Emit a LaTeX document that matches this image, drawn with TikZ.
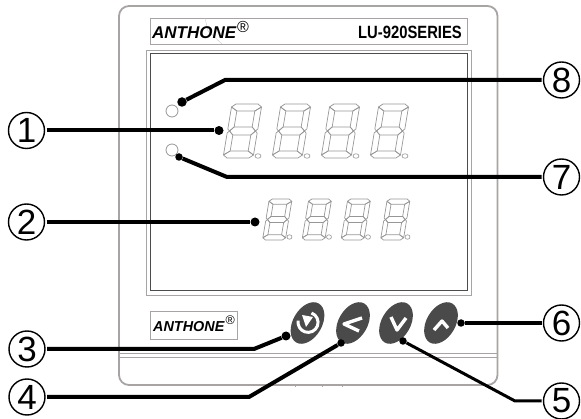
\documentclass[tikz,border=0pt]{standalone}
\usepackage{fontspec}
\setmainfont{Liberation Sans}
\usetikzlibrary{arrows.meta,positioning,shapes.geometric}
\definecolor{BodyGray}{RGB}{168,164,164}
\definecolor{KeyGray}{RGB}{74,74,74}
\definecolor{SegGray}{RGB}{150,150,150}
\tikzset{
  callout/.style={circle,draw=black,line width=1.4pt,minimum size=36pt,inner sep=0pt,
    outer sep=2pt,font=\fontsize{35}{35}\selectfont},
  leader/.style={line width=4pt,black},
  leaddot/.style={circle,fill=black,minimum size=9pt,inner sep=0pt},
  keypad/.style={ellipse,fill=KeyGray,minimum width=45pt,minimum height=29pt,
    inner sep=0pt,rotate=60},
  keymark/.style={white,line width=3.4pt,line join=round},
  led/.style={circle,draw=SegGray,line width=0.8pt,minimum size=12pt,inner sep=0pt},
  seg/.style={draw=SegGray,line width=0.7pt,line join=round},
  pics/segdigit/.style={code={
    \begin{scope}[xslant=0.167,shift={(9,0)}]
      \draw[seg] (4,0) -- (26,0) -- (30,3) -- (24,7) -- (6,7) -- (0,3) -- cycle;
      \draw[seg] (0,3) -- (6,7) -- (6,23) -- (2,27) -- (0,25) -- cycle;
      \draw[seg] (30,3) -- (24,7) -- (24,23) -- (28,27) -- (30,25) -- cycle;
      \draw[seg] (2,27) -- (6,23) -- (24,23) -- (28,27) -- (24,31) -- (6,31) -- cycle;
      \draw[seg] (2,27) -- (6,31) -- (6,47) -- (0,51) -- (0,29) -- cycle;
      \draw[seg] (28,27) -- (24,31) -- (24,47) -- (30,51) -- (30,29) -- cycle;
      \draw[seg] (6,47) -- (24,47) -- (30,51) -- (26,54) -- (4,54) -- (0,51) -- cycle;
    \end{scope}}}
}
\begin{document}
\begin{tikzpicture}[x=1pt,y=-1pt]
  \useasboundingbox (0,0) rectangle (581,419);
  % Case
  \draw[BodyGray,line width=1.8pt,rounded corners=10pt] (119,6) rectangle (497.5,385);
  \draw[BodyGray,line width=1pt] (119,354) -- (497.5,354);
  \draw[BodyGray,line width=1pt] (119,358) -- (497.5,358);
  \foreach \tx in {295,322,342}{
    \draw[BodyGray,line width=1pt] (\tx,385) -- (\tx,387);
  }
  % Top strip
  \draw[BodyGray,line width=0.7pt] (150,18) rectangle (467,44);
  \draw[BodyGray!60,line width=0.4pt] (205,18) -- (208,31) -- (222,44);
  \node[anchor=west,inner sep=0pt,font=\fontsize{17}{17}\selectfont\bfseries\itshape] (toplogo) at (152,33) {ANTHONE};
  \node[anchor=west,inner sep=0pt,font=\fontsize{16}{16}\selectfont] (topreg) at (237,27) {®};
  \node[anchor=east,inner sep=0pt,yscale=1.2,transform shape,font=\fontsize{14.8}{14}\selectfont\bfseries] (model) at (462,32) {LU-920SERIES};
  % Window
  \draw[BodyGray,line width=0.7pt] (146,50) rectangle (471,295);
  \draw[black!70,line width=1pt] (150,54) rectangle (467,291);
  % Digits
  \foreach \dx in {223,272,321,370}{
    \pic at (\dx,104) {segdigit};
    \node[ellipse,draw=SegGray,line width=0.6pt,minimum width=6pt,minimum height=4.5pt,inner sep=0pt] (upperdot\dx) at (\dx+35,156) {};
  }
  \foreach \dx in {262.5,302,341,380.5}{
    \pic[scale=0.76] at (\dx,199) {segdigit};
    \node[ellipse,draw=SegGray,line width=0.6pt,minimum width=5pt,minimum height=4.5pt,inner sep=0pt] (lowerdot\dx) at (\dx+27,237) {};
  }
  \node[led] (ledtop) at (172,111) {};
  \node[led] (ledlow) at (172,150) {};
  % Bottom logo
  \draw[BodyGray,line width=0.7pt] (150,311) rectangle (237,339);
  \node[anchor=west,inner sep=0pt,font=\fontsize{14.4}{14}\selectfont\bfseries\itshape] (lowlogo) at (153,327) {ANTHONE};
  \node[anchor=west,inner sep=0pt,font=\fontsize{12.5}{12}\selectfont] (lowreg) at (225.5,320) {®};
  % Keys
  \node[keypad] (keyback) at (307.5,323) {};
  \node[keypad] (keyleft) at (353,323) {};
  \node[keypad] (keydown) at (396,323) {};
  \node[keypad] (keyup) at (441,323) {};
  \draw[keymark,line width=3pt] (311.5,313) arc[start angle=-70,end angle=190,radius=10];
  \fill[white] (302,315) -- (313,317) -- (306,327) -- cycle;
  \draw[keymark] (362,318) -- (344,324) -- (359,331);
  \draw[keymark] (391,317) -- (397,330) -- (406,318);
  \draw[keymark] (434,330) -- (442,321) -- (448,328);
  % Callouts
  \node[callout] (numone) at (26.5,130.5) {1};
  \node[callout] (numtwo) at (26.5,222) {2};
  \node[callout] (numthree) at (27,349) {3};
  \node[callout] (numfour) at (27,397) {4};
  \node[callout] (numfive) at (561.5,401) {5};
  \node[callout] (numsix) at (561.5,323) {6};
  \node[callout] (numseven) at (561.5,177) {7};
  \node[callout] (numeight) at (561.5,80) {8};
  % Leader ends
  \node[leaddot] (dotone) at (219,130.5) {};
  \node[leaddot] (dottwo) at (255,222) {};
  \node[leaddot] (dotthree) at (286,336) {};
  \node[leaddot,minimum size=7.5pt] (dotfour) at (341,343) {};
  \node[leaddot,minimum size=7.5pt] (dotfive) at (403,341) {};
  \node[leaddot,minimum size=7.5pt] (dotsix) at (461,323) {};
  \node[leaddot,minimum size=7.5pt] (dotseven) at (179,157) {};
  \node[leaddot,minimum size=9.5pt] (doteight) at (182,102) {};
  \coordinate (bendthree) at (254,349);
  \coordinate (bendfour) at (249,397);
  \coordinate (bendfive) at (515,401);
  \coordinate (bendseven) at (227,177);
  \coordinate (bendeight) at (225,80);
  % Leaders
  \draw[leader] (numone) -- (dotone);
  \draw[leader] (numtwo) -- (dottwo);
  \draw[leader] (numthree) -- (bendthree) -- (dotthree);
  \draw[leader] (numfour) -- (bendfour) -- (dotfour);
  \draw[leader,line width=3pt] (numfive) -- (bendfive) -- (dotfive);
  \draw[leader,line width=3.4pt] (numsix) -- (dotsix);
  \draw[leader] (numseven) -- (bendseven) -- (dotseven);
  \draw[leader] (numeight) -- (bendeight) -- (doteight);
\end{tikzpicture}
\end{document}
